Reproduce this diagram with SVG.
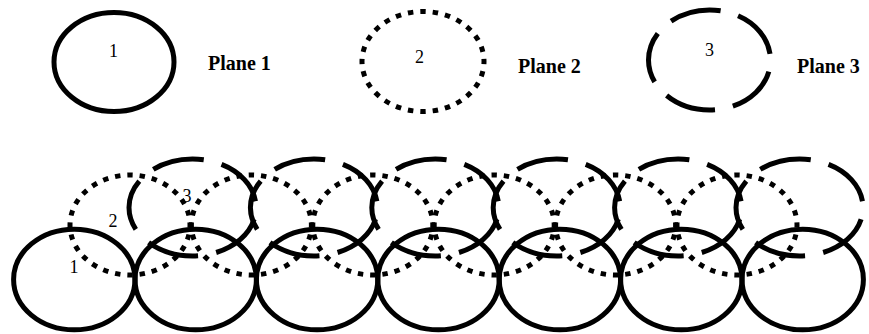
<svg xmlns="http://www.w3.org/2000/svg" width="869" height="334" viewBox="0 0 869 334">
<style>
.solid{fill:none;stroke:#000;stroke-width:5}
.dot{fill:none;stroke:#000;stroke-width:5;stroke-dasharray:4.4 5.6;stroke-dashoffset:2.2}
.dash{fill:none;stroke:#000;stroke-width:5;stroke-dasharray:14.8 5.2;stroke-dashoffset:16.6}
.num{font-family:"Liberation Serif","Times New Roman",serif;font-size:18px;fill:#000;text-anchor:middle}
.lbl{font-family:"Liberation Serif","Times New Roman",serif;font-size:20px;font-weight:bold;fill:#000}
</style>
<rect width="869" height="334" fill="#fff"/>
<g id="plane1">
<ellipse class="solid" cx="114" cy="62" rx="60" ry="49.5"/>
<text class="num" x="113.5" y="57">1</text>
<text class="lbl" x="208" y="70">Plane 1</text>
</g>
<g id="plane2">
<ellipse class="dot" pathLength="280" cx="423" cy="61.5" rx="61" ry="50"/>
<text class="num" x="419.5" y="63">2</text>
<text class="lbl" x="518" y="73">Plane 2</text>
</g>
<g id="plane3">
<ellipse class="dash" pathLength="100" cx="709.5" cy="60" rx="61" ry="50"/>
<text class="num" x="709.5" y="56">3</text>
<text class="lbl" x="797" y="73">Plane 3</text>
</g>
<g id="stack-plane1">
<ellipse class="solid" cx="74.3" cy="279.5" rx="60.7" ry="50.3"/>
<ellipse class="solid" cx="195.7" cy="279.5" rx="60.7" ry="50.3"/>
<ellipse class="solid" cx="317.1" cy="279.5" rx="60.7" ry="50.3"/>
<ellipse class="solid" cx="438.5" cy="279.5" rx="60.7" ry="50.3"/>
<ellipse class="solid" cx="559.9" cy="279.5" rx="60.7" ry="50.3"/>
<ellipse class="solid" cx="681.3" cy="279.5" rx="60.7" ry="50.3"/>
<ellipse class="solid" cx="802.7" cy="279.5" rx="60.7" ry="50.3"/>
<text class="num" x="74" y="273">1</text>
</g>
<g id="stack-plane2">
<ellipse class="dot" pathLength="280" cx="130" cy="225" rx="60" ry="50"/>
<ellipse class="dot" pathLength="280" cx="251.4" cy="225" rx="60" ry="50"/>
<ellipse class="dot" pathLength="280" cx="372.8" cy="225" rx="60" ry="50"/>
<ellipse class="dot" pathLength="280" cx="494.2" cy="225" rx="60" ry="50"/>
<ellipse class="dot" pathLength="280" cx="615.6" cy="225" rx="60" ry="50"/>
<ellipse class="dot" pathLength="280" cx="737" cy="225" rx="60" ry="50"/>
<text class="num" x="113" y="227">2</text>
</g>
<g id="stack-plane3">
<ellipse class="dash" pathLength="100" cx="192.5" cy="207.5" rx="63.5" ry="48.5"/>
<ellipse class="dash" pathLength="100" cx="313.9" cy="207.5" rx="63.5" ry="48.5"/>
<ellipse class="dash" pathLength="100" cx="435.3" cy="207.5" rx="63.5" ry="48.5"/>
<ellipse class="dash" pathLength="100" cx="556.7" cy="207.5" rx="63.5" ry="48.5"/>
<ellipse class="dash" pathLength="100" cx="678.1" cy="207.5" rx="63.5" ry="48.5"/>
<ellipse class="dash" pathLength="100" cx="799.5" cy="207.5" rx="63.5" ry="48.5"/>
<text class="num" x="187" y="202">3</text>
</g>
</svg>
